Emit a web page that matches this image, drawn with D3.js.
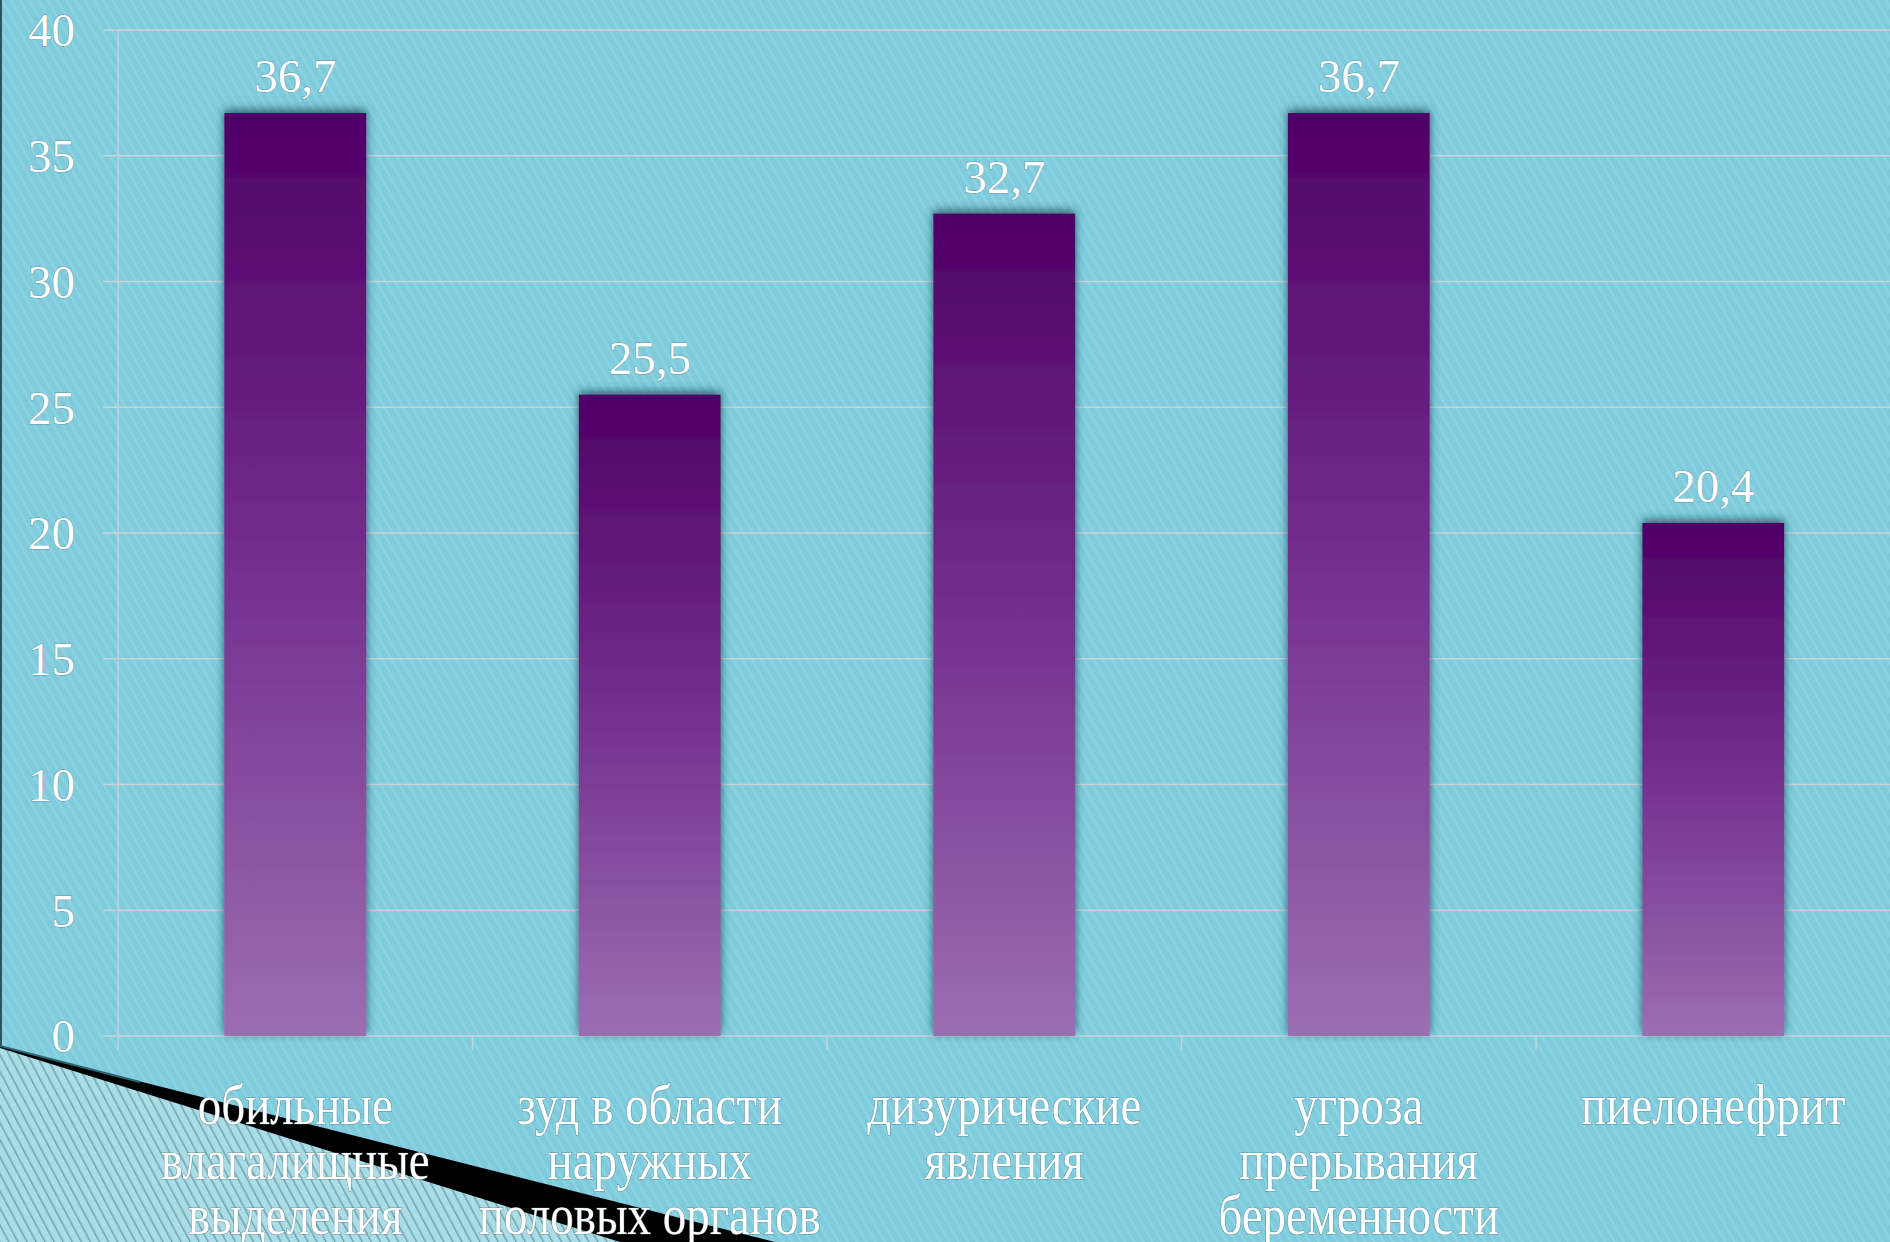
<!DOCTYPE html>
<html lang="ru">
<head>
    <meta charset="UTF-8">
    <title>Жалобы</title>

    <style>

        body
        {
            margin: 0;
            background: #7fcbdc;
        }

        svg
        {
            display: block;
        }

        .tick-label, .value-label, .cat-label
        {
            font-family: "Liberation Serif", "Times New Roman", serif;
            fill: #ffffff;
            stroke: rgba(70, 100, 110, 0.55);
            stroke-width: 1;
            paint-order: stroke;
        }

        .tick-label, .value-label
        {
            font-size: 47px;
        }

        .cat-label
        {
            font-size: 47px;
        }

        .grid line
        {
            stroke: #c9d3d6;
            stroke-width: 1.5;
        }

    </style>
</head>
<body>

    <svg width="1890" height="1242"></svg>

    <script src="https://d3js.org/d3.v7.min.js"></script>

    <script>

        // Data
        const categories = [
            ['обильные', 'влагалищные', 'выделения'],
            ['зуд в области', 'наружных', 'половых органов'],
            ['дизурические', 'явления'],
            ['угроза', 'прерывания', 'беременности'],
            ['пиелонефрит']
        ];

        const values = [36.7, 25.5, 32.7, 36.7, 20.4];

        const yTicks = [0, 5, 10, 15, 20, 25, 30, 35, 40];

        const svg = d3.select('svg');
        const width = +svg.attr('width');
        const height = +svg.attr('height');

        const plot = { left: 118, right: 1890.5, top: 30, bottom: 1036 };

        const x = d3.scaleBand()
            .domain(d3.range(values.length))
            .range([plot.left, plot.right])
            .paddingInner(0.6)
            .paddingOuter(0.3);

        const y = d3.scaleLinear()
            .domain([0, 40])
            .range([plot.bottom, plot.top]);

        const fmt = function (v) {
            return d3.format('.1f')(v).replace('.', ',');
        };

        const defs = svg.append('defs');

        // Background hatching
        const bgPattern = defs.append('pattern')
            .attr('id', 'bgHatch')
            .attr('patternUnits', 'userSpaceOnUse')
            .attr('width', 8)
            .attr('height', 8)
            .attr('patternTransform', 'rotate(-30)');
        bgPattern.append('rect')
            .attr('width', 8).attr('height', 8)
            .attr('fill', '#7fcbdc');
        bgPattern.append('rect')
            .attr('width', 2.5).attr('height', 8)
            .attr('fill', '#8ad3e2');

        const lightPattern = defs.append('pattern')
            .attr('id', 'lightHatch')
            .attr('patternUnits', 'userSpaceOnUse')
            .attr('width', 8)
            .attr('height', 8)
            .attr('patternTransform', 'rotate(-28)');
        lightPattern.append('rect')
            .attr('width', 8).attr('height', 8)
            .attr('fill', '#abdde7');
        lightPattern.append('rect')
            .attr('width', 1.5).attr('height', 8)
            .attr('fill', '#6fa3ae');

        // Bar gradient, one per bar box
        const grad = defs.append('linearGradient')
            .attr('id', 'barGrad')
            .attr('x1', 0).attr('y1', 0)
            .attr('x2', 0).attr('y2', 1);
        grad.append('stop').attr('offset', '0%').attr('stop-color', '#4f0066');
        grad.append('stop').attr('offset', '50%').attr('stop-color', '#74308f');
        grad.append('stop').attr('offset', '100%').attr('stop-color', '#9b6eb1');

        const shadow = defs.append('filter')
            .attr('id', 'barShadow')
            .attr('x', '-20%').attr('y', '-10%')
            .attr('width', '140%').attr('height', '120%');
        shadow.append('feDropShadow')
            .attr('dx', 0).attr('dy', -3)
            .attr('stdDeviation', 5)
            .attr('flood-color', '#143440')
            .attr('flood-opacity', 0.75);

        svg.append('rect')
            .attr('width', width)
            .attr('height', height)
            .attr('fill', 'url(#bgHatch)');

        // Left edge line
        svg.append('rect')
            .attr('width', 2)
            .attr('height', height)
            .attr('fill', '#2d5360');

        // Bottom-left corner decoration
        svg.append('path')
            .attr('d', 'M0,1046 L775,1242 L0,1242 Z')
            .attr('fill', '#000000');
        svg.append('path')
            .attr('d', 'M0,1046 L140,1082')
            .attr('stroke', '#2c6670')
            .attr('stroke-width', 2);
        svg.append('path')
            .attr('d', 'M0,1048 L620,1242 L0,1242 Z')
            .attr('fill', 'url(#lightHatch)');

        // Gridlines
        svg.append('g')
            .attr('class', 'grid')
            .selectAll('line')
            .data(yTicks)
            .enter()
            .append('line')
            .attr('x1', plot.left - 15)
            .attr('x2', width)
            .attr('y1', function (d) { return y(d); })
            .attr('y2', function (d) { return y(d); });

        // Y axis line and x tick marks
        svg.append('line')
            .attr('x1', plot.left).attr('x2', plot.left)
            .attr('y1', plot.top).attr('y2', plot.bottom + 14)
            .attr('stroke', '#c9d3d6')
            .attr('stroke-width', 1.5);

        const boundaries = d3.range(values.length).map(function (i) {
            return x(i) - x.step() * x.paddingInner() / 2;
        });

        svg.append('g')
            .selectAll('line')
            .data(boundaries.slice(1))
            .enter()
            .append('line')
            .attr('x1', function (d) { return d; })
            .attr('x2', function (d) { return d; })
            .attr('y1', plot.bottom)
            .attr('y2', plot.bottom + 14)
            .attr('stroke', '#c9d3d6')
            .attr('stroke-width', 1.5);

        // Y tick labels
        svg.append('g')
            .selectAll('text')
            .data(yTicks)
            .enter()
            .append('text')
            .attr('class', 'tick-label')
            .attr('x', 75)
            .attr('y', function (d) { return y(d); })
            .attr('dy', '0.35em')
            .attr('text-anchor', 'end')
            .text(function (d) { return d; });

        // Bars
        svg.append('g')
            .selectAll('rect')
            .data(values)
            .enter()
            .append('rect')
            .attr('x', function (d, i) { return x(i); })
            .attr('y', function (d) { return y(d); })
            .attr('width', x.bandwidth())
            .attr('height', function (d) { return y(0) - y(d); })
            .attr('fill', 'url(#barGrad)')
            .attr('filter', 'url(#barShadow)');

        // Value labels
        svg.append('g')
            .selectAll('text')
            .data(values)
            .enter()
            .append('text')
            .attr('class', 'value-label')
            .attr('x', function (d, i) { return x(i) + x.bandwidth() / 2; })
            .attr('y', function (d) { return y(d) - 21; })
            .attr('text-anchor', 'middle')
            .text(fmt);

        // Category labels (slightly stretched vertically like the original)
        const stretch = 1.2;
        const lineStep = 55;

        const cat = svg.append('g')
            .selectAll('text')
            .data(categories)
            .enter()
            .append('text')
            .attr('class', 'cat-label')
            .attr('text-anchor', 'middle')
            .attr('transform', function (d, i) {
                return 'translate(' + (x(i) + x.bandwidth() / 2) + ' 1124) scale(1 ' + stretch + ')';
            });

        cat.selectAll('tspan')
            .data(function (d) { return d; })
            .enter()
            .append('tspan')
            .attr('x', 0)
            .attr('y', function (d, j) { return j * lineStep / stretch; })
            .text(function (d) { return d; });

    </script>

</body>
</html>
